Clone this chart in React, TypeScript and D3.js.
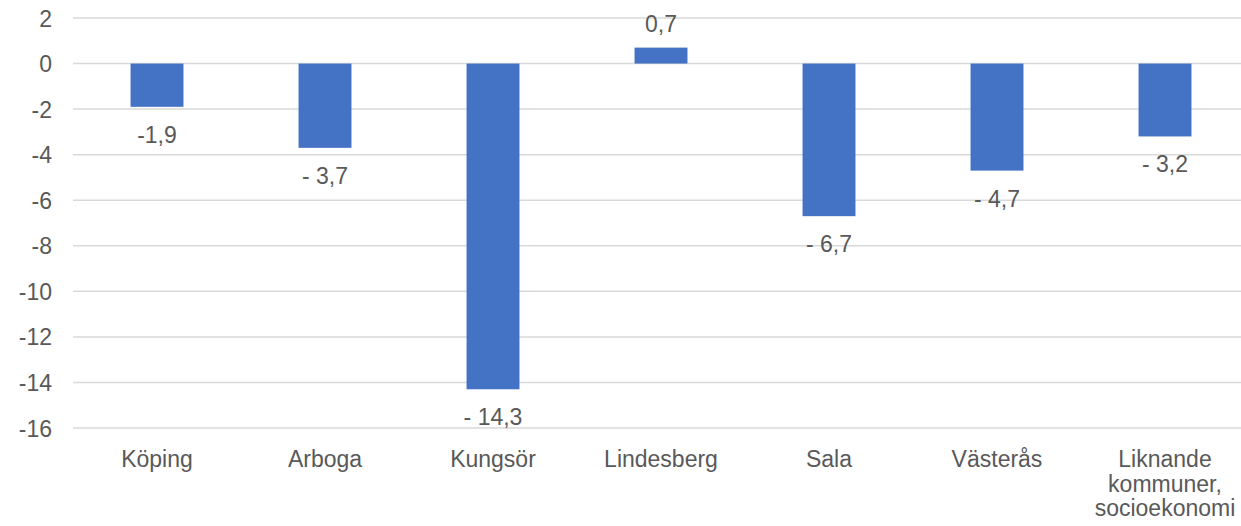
import { useRef, useEffect } from 'react';
import * as d3 from 'd3';

// ---------------------------------------------------------------------------
// Data
// ---------------------------------------------------------------------------
const CATEGORIES = ['Köping', 'Arboga', 'Kungsör', 'Lindesberg', 'Sala', 'Västerås', 'Liknande kommuner, socioekonomi'];
const CATEGORY_LINES = [['Köping'], ['Arboga'], ['Kungsör'], ['Lindesberg'], ['Sala'], ['Västerås'], ['Liknande', 'kommuner,', 'socioekonomi']];
const VALUES = [-1.9, -3.7, -14.3, 0.7, -6.7, -4.7, -3.2];
const VALUE_LABELS = ['-1,9', '- 3,7', '- 14,3', '0,7', '- 6,7', '- 4,7', '- 3,2'];
const Y_TICKS = [2, 0, -2, -4, -6, -8, -10, -12, -14, -16];

const BAR = '#4472c4';
const GRID = '#d9d9d9';
const TEXT = '#595959';
const FONT = '"Liberation Sans", Arial, sans-serif';
const FS = '23px';

export default function App() {
  const svgRef = useRef<SVGSVGElement>(null);

  useEffect(() => {
    const svg = svgRef.current;
    if (!svg) return;
    const sel = d3.select(svg);
    sel.selectAll('*').remove();

    const width = 1241;
    const left = 73;

    const x = d3
      .scaleBand<string>()
      .domain(CATEGORIES)
      .range([left, left + 168 * 7])
      .paddingInner(0.685)
      .paddingOuter(0.3425);
    const y = d3.scaleLinear().domain([-16, 2]).range([428, 18]);

    // Gridlines + y labels
    Y_TICKS.forEach((t) => {
      sel.append('line')
        .attr('x1', left)
        .attr('x2', width)
        .attr('y1', y(t))
        .attr('y2', y(t))
        .attr('stroke', GRID)
        .attr('stroke-width', 1.5);

      sel.append('text')
        .attr('x', 52)
        .attr('y', y(t) + 8.5)
        .attr('text-anchor', 'end')
        .attr('fill', TEXT)
        .attr('font-family', FONT)
        .attr('font-size', FS)
        .text(String(t));
    });

    // Bars + labels
    CATEGORIES.forEach((c, i) => {
      const v = VALUES[i];
      const x0 = x(c) ?? 0;
      const bw = x.bandwidth();
      sel.append('rect')
        .attr('x', x0)
        .attr('y', y(Math.max(0, v)))
        .attr('width', bw)
        .attr('height', Math.abs(y(v) - y(0)))
        .attr('fill', BAR);

      sel.append('text')
        .attr('x', x0 + bw / 2)
        .attr('y', v < 0 ? y(v) + 36 : y(v) - 16)
        .attr('text-anchor', 'middle')
        .attr('fill', TEXT)
        .attr('font-family', FONT)
        .attr('font-size', FS)
        .text(VALUE_LABELS[i]);

      CATEGORY_LINES[i].forEach((line, j) => {
        sel.append('text')
          .attr('x', x0 + bw / 2)
          .attr('y', 467 + j * 24.5)
          .attr('text-anchor', 'middle')
          .attr('fill', TEXT)
          .attr('font-family', FONT)
          .attr('font-size', FS)
          .text(line);
      });
    });
  }, []);

  return (
    <svg
      ref={svgRef}
      width={1241}
      height={526}
      style={{ position: 'absolute', left: 0, top: 0, background: '#fff' }}
    />
  );
}
